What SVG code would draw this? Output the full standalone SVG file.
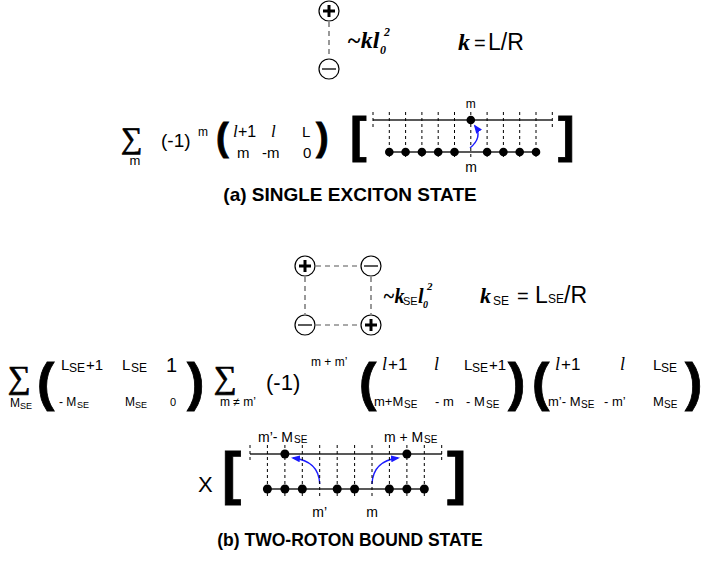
<svg xmlns="http://www.w3.org/2000/svg" width="701" height="562" viewBox="0 0 701 562">
<defs>
<style>
.s{font-family:"Liberation Sans",Arial,sans-serif;fill:#000}
.bi{font-family:"Liberation Serif","Times New Roman",serif;font-weight:bold;font-style:italic;fill:#000}
.it{font-family:"Liberation Serif","Times New Roman",serif;font-style:italic;fill:#000}
.par{font-family:"Liberation Sans",Arial,sans-serif;font-weight:bold;fill:#000;stroke:#000;stroke-width:0.8}
.sum{font-family:"Liberation Serif","DejaVu Serif",serif;fill:#000;stroke:#000;stroke-width:0.7}
.ttl{font-family:"Liberation Sans",Arial,sans-serif;font-weight:bold;text-anchor:middle;fill:#000}
.mid{text-anchor:middle}
.c{fill:#fff;stroke:#000;stroke-width:1.2}
.pl{stroke:#000;stroke-width:3}
.mi{stroke:#000;stroke-width:1.3}
.dash{stroke:#555;stroke-width:1.2;stroke-dasharray:5 4;fill:none}
.vd{stroke:#000;stroke-width:1;stroke-dasharray:3 3}
.ln{stroke:#222;stroke-width:1.3}
.dot{fill:#000}
.arr{stroke:#1a1aff;stroke-width:1.4;fill:none;marker-end:url(#ah)}
</style>
<marker id="ah" markerWidth="9" markerHeight="7" refX="7" refY="3.5" orient="auto" markerUnits="userSpaceOnUse">
<path d="M0,0 L9,3.5 L0,7 z" fill="#1a1aff"/>
</marker>
</defs>
<rect width="701" height="562" fill="#fff"/>

<!-- connectors -->
<g id="connectors">
<line class="dash" x1="329" y1="22" x2="329" y2="58"/>
<line class="dash" x1="316" y1="266" x2="360" y2="266"/>
<line class="dash" x1="316" y1="325" x2="360" y2="325"/>
<line class="dash" x1="305" y1="277" x2="305" y2="314"/>
<line class="dash" x1="371" y1="277" x2="371" y2="314"/>
<path class="arr" d="M470,148 Q483,137 475,126"/>
<path class="arr" d="M319.7,484 Q319,461 293,458"/>
<path class="arr" d="M372,484 Q373,461 398,458"/>
</g>

<!-- (a) charges -->
<g id="a-plus"><circle class="c" cx="329" cy="11" r="10"/><line class="pl" x1="323" y1="11" x2="335" y2="11"/><line class="pl" x1="329" y1="5" x2="329" y2="17"/></g>
<g id="a-minus"><circle class="c" cx="329" cy="69" r="10"/><line class="mi" x1="322" y1="69" x2="336" y2="69"/></g>
<g id="a-energy"><text class="bi" x="347" y="48" font-size="24">~kl</text><text class="bi" x="380" y="54" font-size="12">0</text><text class="bi" x="384" y="36" font-size="12">2</text></g>
<g id="a-k"><text class="bi" x="458" y="50" font-size="24">k</text><text class="s" x="474" y="50" font-size="20">=</text><text class="s" x="488" y="50" font-size="23">L/R</text></g>

<!-- (a) formula -->
<g id="a-formula">
<text class="sum" x="121" y="148" font-size="30">∑</text>
<text class="s mid" x="135" y="165" font-size="13">m</text>
<text class="s" x="161" y="147" font-size="19">(-1)</text>
<text class="s" x="198" y="136" font-size="12">m</text>
<text class="par" x="216" y="150" font-size="38">(</text>
<text class="it" x="233" y="137" font-size="17">l</text><text class="s" x="238" y="137" font-size="16">+1</text>
<text class="it" x="271" y="137" font-size="17">l</text>
<text class="s" x="302" y="137" font-size="15">L</text>
<text class="s" x="237" y="158" font-size="15">m</text>
<text class="s" x="262" y="158" font-size="15">-m</text>
<text class="s" x="303" y="158" font-size="15">0</text>
<text class="par" x="316" y="150" font-size="38">)</text>
</g>

<!-- (a) lattice -->
<g id="a-lattice">
<text class="par" x="350" y="152" font-size="50">[</text>
<text class="par" x="558" y="152" font-size="50">]</text>
<line class="ln" x1="373" y1="120" x2="552" y2="120"/>
<line class="ln" x1="389" y1="152" x2="536" y2="152"/>
<line class="vd" x1="373" y1="112" x2="373" y2="127"/>
<line class="vd" x1="552.3" y1="112" x2="552.3" y2="127"/>
<line class="vd" x1="389.3" y1="112" x2="389.3" y2="158"/>
<line class="vd" x1="405.6" y1="112" x2="405.6" y2="158"/>
<line class="vd" x1="421.9" y1="112" x2="421.9" y2="158"/>
<line class="vd" x1="438.2" y1="112" x2="438.2" y2="158"/>
<line class="vd" x1="454.5" y1="112" x2="454.5" y2="158"/>
<line class="vd" x1="470.8" y1="112" x2="470.8" y2="158"/>
<line class="vd" x1="487.1" y1="112" x2="487.1" y2="158"/>
<line class="vd" x1="503.4" y1="112" x2="503.4" y2="158"/>
<line class="vd" x1="519.7" y1="112" x2="519.7" y2="158"/>
<line class="vd" x1="536" y1="112" x2="536" y2="158"/>
<circle class="dot" cx="470.8" cy="120" r="4.3"/>
<circle class="dot" cx="389.3" cy="152" r="4.3"/>
<circle class="dot" cx="405.6" cy="152" r="4.3"/>
<circle class="dot" cx="421.9" cy="152" r="4.3"/>
<circle class="dot" cx="438.2" cy="152" r="4.3"/>
<circle class="dot" cx="454.5" cy="152" r="4.3"/>
<circle class="dot" cx="487.1" cy="152" r="4.3"/>
<circle class="dot" cx="503.4" cy="152" r="4.3"/>
<circle class="dot" cx="519.7" cy="152" r="4.3"/>
<circle class="dot" cx="536" cy="152" r="4.3"/>
<text class="s mid" x="470.8" y="108" font-size="12">m</text>
<text class="s mid" x="471" y="172" font-size="14">m</text>
</g>

<g id="a-title"><text class="ttl" x="350" y="201" font-size="19">(a) SINGLE EXCITON STATE</text></g>

<!-- (b) charges -->
<g id="b-plus1"><circle class="c" cx="305" cy="266" r="10"/><line class="pl" x1="299" y1="266" x2="311" y2="266"/><line class="pl" x1="305" y1="260" x2="305" y2="272"/></g>
<g id="b-minus1"><circle class="c" cx="371" cy="266" r="10"/><line class="mi" x1="364" y1="266" x2="378" y2="266"/></g>
<g id="b-minus2"><circle class="c" cx="305" cy="325" r="10"/><line class="mi" x1="298" y1="325" x2="312" y2="325"/></g>
<g id="b-plus2"><circle class="c" cx="371" cy="325" r="10"/><line class="pl" x1="365" y1="325" x2="377" y2="325"/><line class="pl" x1="371" y1="319" x2="371" y2="331"/></g>
<g id="b-energy"><text class="bi" x="383" y="303" font-size="20">~k</text><text class="s" x="403" y="305" font-size="11">SE</text><text class="bi" x="418" y="303" font-size="20">l</text><text class="bi" x="423" y="308" font-size="10">0</text><text class="bi" x="427" y="290" font-size="11">2</text></g>
<g id="b-k"><text class="bi" x="480" y="303" font-size="22">k</text><text class="s" x="493" y="305" font-size="12">SE</text><text class="s" x="517" y="303" font-size="20">=</text><text class="s" x="535" y="303" font-size="23">L</text><text class="s" x="548" y="303" font-size="12">SE</text><text class="s" x="564" y="303" font-size="23">/R</text></g>

<!-- (b) formula -->
<g id="b-formula">
<text class="sum" x="8" y="388" font-size="32">∑</text>
<text class="s" x="10" y="407" font-size="12">M</text><text class="s" x="20" y="409" font-size="9">SE</text>
<text class="par" x="37" y="400" font-size="52">(</text>
<text class="s" x="61" y="370" font-size="15">L</text><text class="s" x="69" y="372" font-size="12">SE</text><text class="s" x="86" y="370" font-size="15">+1</text>
<text class="s" x="122" y="370" font-size="15">L</text><text class="s" x="131" y="372" font-size="12">SE</text>
<text class="s" x="166" y="372" font-size="20">1</text>
<text class="s" x="59" y="406" font-size="12">- M</text><text class="s" x="77" y="408" font-size="9">SE</text>
<text class="s" x="125" y="406" font-size="12">M</text><text class="s" x="135" y="408" font-size="9">SE</text>
<text class="s" x="170" y="406" font-size="11">0</text>
<text class="par" x="187" y="400" font-size="52">)</text>
<text class="sum" x="214" y="388" font-size="32">∑</text>
<text class="s" x="220" y="406" font-size="12">m ≠ m’</text>
<text class="s" x="266" y="390" font-size="22">(-1)</text>
<text class="s" x="311" y="366" font-size="12">m + m’</text>
<text class="par" x="359" y="400" font-size="52">(</text>
<text class="it" x="382" y="370" font-size="18">l</text><text class="s" x="388" y="370" font-size="17">+1</text>
<text class="it" x="434" y="370" font-size="18">l</text>
<text class="s" x="464" y="370" font-size="15">L</text><text class="s" x="472" y="372" font-size="12">SE</text><text class="s" x="489" y="370" font-size="15">+1</text>
<text class="s" x="374" y="406" font-size="13">m+M</text><text class="s" x="404" y="408" font-size="10">SE</text>
<text class="s" x="435" y="406" font-size="13">- m</text>
<text class="s" x="466" y="406" font-size="13">- M</text><text class="s" x="486" y="408" font-size="10">SE</text>
<text class="par" x="508" y="400" font-size="52">)</text>
<text class="par" x="532" y="400" font-size="52">(</text>
<text class="it" x="555" y="370" font-size="18">l</text><text class="s" x="561" y="370" font-size="17">+1</text>
<text class="it" x="620" y="370" font-size="18">l</text>
<text class="s" x="653" y="370" font-size="15">L</text><text class="s" x="661" y="372" font-size="12">SE</text>
<text class="s" x="548" y="406" font-size="13">m’- M</text><text class="s" x="581" y="408" font-size="10">SE</text>
<text class="s" x="604" y="406" font-size="13">- m’</text>
<text class="s" x="653" y="406" font-size="13">M</text><text class="s" x="664" y="408" font-size="10">SE</text>
<text class="par" x="685" y="400" font-size="52">)</text>
</g>

<!-- (b) lattice -->
<g id="b-lattice">
<text class="s" x="198" y="492" font-size="22">X</text>
<text class="par" x="222" y="493" font-size="58">[</text>
<text class="par" x="447" y="493" font-size="58">]</text>
<line class="ln" x1="250" y1="454" x2="442" y2="454"/>
<line class="ln" x1="267.4" y1="489" x2="424.3" y2="489"/>
<line class="vd" x1="250" y1="445" x2="250" y2="463"/>
<line class="vd" x1="441.7" y1="445" x2="441.7" y2="463"/>
<line class="vd" x1="267.4" y1="445" x2="267.4" y2="498"/>
<line class="vd" x1="284.9" y1="445" x2="284.9" y2="498"/>
<line class="vd" x1="302.3" y1="445" x2="302.3" y2="498"/>
<line class="vd" x1="319.7" y1="445" x2="319.7" y2="498"/>
<line class="vd" x1="337.2" y1="445" x2="337.2" y2="498"/>
<line class="vd" x1="354.6" y1="445" x2="354.6" y2="498"/>
<line class="vd" x1="372" y1="445" x2="372" y2="498"/>
<line class="vd" x1="389.4" y1="445" x2="389.4" y2="498"/>
<line class="vd" x1="406.9" y1="445" x2="406.9" y2="498"/>
<line class="vd" x1="424.3" y1="445" x2="424.3" y2="498"/>
<circle class="dot" cx="284.9" cy="454" r="4.5"/>
<circle class="dot" cx="406.9" cy="454" r="4.5"/>
<circle class="dot" cx="267.4" cy="489" r="4.5"/>
<circle class="dot" cx="284.9" cy="489" r="4.5"/>
<circle class="dot" cx="302.3" cy="489" r="4.5"/>
<circle class="dot" cx="337.2" cy="489" r="4.5"/>
<circle class="dot" cx="354.6" cy="489" r="4.5"/>
<circle class="dot" cx="389.4" cy="489" r="4.5"/>
<circle class="dot" cx="406.9" cy="489" r="4.5"/>
<circle class="dot" cx="424.3" cy="489" r="4.5"/>
<text class="s" x="258" y="442" font-size="14">m’- M</text><text class="s" x="294" y="443" font-size="10">SE</text>
<text class="s" x="384" y="442" font-size="14">m + M</text><text class="s" x="424" y="443" font-size="10">SE</text>
<text class="s mid" x="319.7" y="517" font-size="14">m’</text>
<text class="s mid" x="372" y="517" font-size="14">m</text>
</g>

<g id="b-title"><text class="ttl" x="350" y="546" font-size="17.5">(b) TWO-ROTON BOUND STATE</text></g>
</svg>
